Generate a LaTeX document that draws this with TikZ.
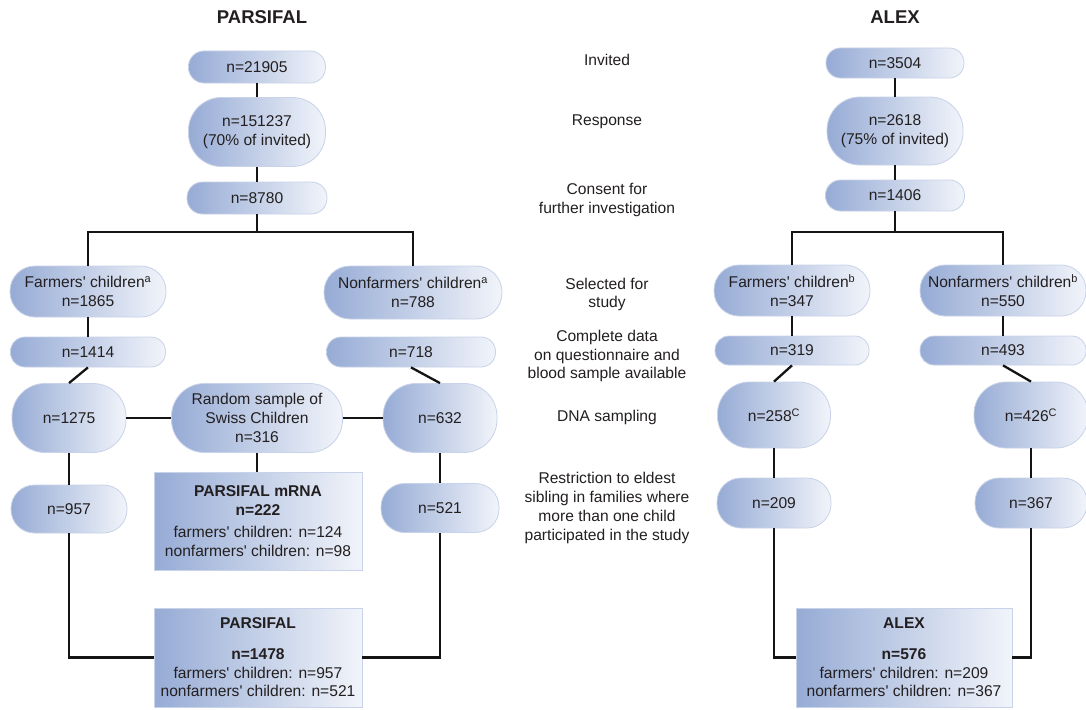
\documentclass[tikz,border=0pt]{standalone}
\usepackage{fontspec}
\setmainfont{Liberation Sans}
\newfontfamily\lib{Liberation Sans}
\definecolor{gl}{RGB}{150,171,213}
\definecolor{gr}{RGB}{241,244,250}
\definecolor{bd}{RGB}{200,210,232}
\definecolor{tx}{RGB}{35,31,32}
\begin{document}
\begin{tikzpicture}[x=1pt,y=-1pt,
 every node/.style={text=tx, font=\lib\fontsize{15.6}{18.7}\selectfont, align=center, inner sep=0pt},
 pill/.style={rectangle, rounded corners=#1, draw=bd, line width=0.8pt, left color=gl, right color=gr},
 boxr/.style={rectangle, draw=bd, line width=0.8pt, left color=gl, right color=gr},
 ttl/.style={font=\lib\fontsize{18.5}{22}\selectfont\bfseries},
 conn/.style={line width=2.3pt, draw=black!92}
]
\useasboundingbox (0,0) rectangle (1086,709);
\fill[white] (0,0) rectangle (1086,709);

% titles
\node[ttl] (t1) at (262,17) {PARSIFAL};
\node[ttl] (t2) at (895,17) {ALEX};

% PARSIFAL column
\node[pill=15.5, minimum width=137pt, minimum height=32pt] (p1) at (257,67) {n=21905};
\node[pill=33, minimum width=137pt, minimum height=69pt] (p2) at (257,132) {n=151237\\(70\% of invited)};
\node[pill=15.5, minimum width=140pt, minimum height=32pt] (p3) at (257,198) {n=8780};
\node[pill=25, minimum width=156pt, minimum height=51pt] (pf) at (88,291.5) {Farmers' children\textsuperscript{a}\\n=1865};
\node[pill=26, minimum width=178pt, minimum height=53pt] (pn) at (413,292.5) {Nonfarmers' children\textsuperscript{a}\\n=788};
\node[pill=14.5, minimum width=155pt, minimum height=30pt] (p1414) at (88,352) {n=1414};
\node[pill=14.5, minimum width=169pt, minimum height=30pt] (p718) at (411,352) {n=718};
\node[pill=33, minimum width=114pt, minimum height=69pt] (p1275) at (69,418) {n=1275};
\node[pill=33, minimum width=171pt, minimum height=69pt] (prs) at (257,418) {Random sample of\\Swiss Children\\n=316};
\node[pill=33, minimum width=114pt, minimum height=69pt] (p632) at (440,418) {n=632};
\node[pill=23.5, minimum width=116pt, minimum height=48pt] (p957) at (69,509) {n=957};
\node[pill=23.5, minimum width=118pt, minimum height=49pt] (p521) at (440,508) {n=521};
\node[boxr, minimum width=208pt, minimum height=98pt] (pm) at (258,521)
  {\textbf{PARSIFAL mRNA}\\\textbf{n=222}\\[4pt]farmers' children: n=124\\nonfarmers' children: n=98};
\node[boxr, minimum width=208pt, minimum height=99pt] (pp) at (258,657.5)
  {\textbf{PARSIFAL}\\[12pt]\textbf{n=1478}\\farmers' children: n=957\\nonfarmers' children: n=521};

% ALEX column
\node[pill=14.5, minimum width=138pt, minimum height=30pt] (a1) at (895,63) {n=3504};
\node[pill=33, minimum width=136pt, minimum height=68pt] (a2) at (895,131) {n=2618\\(75\% of invited)};
\node[pill=15, minimum width=139pt, minimum height=31pt] (a3) at (895,195.5) {n=1406};
\node[pill=25, minimum width=156pt, minimum height=51pt] (af) at (792,290.5) {Farmers' children\textsuperscript{b}\\n=347};
\node[pill=25, minimum width=166pt, minimum height=51pt] (an) at (1003,290.5) {Nonfarmers' children\textsuperscript{b}\\n=550};
\node[pill=14, minimum width=154pt, minimum height=29pt] (a319) at (792,350.5) {n=319};
\node[pill=14, minimum width=166pt, minimum height=29pt] (a493) at (1003,350.5) {n=493};
\node[pill=32, minimum width=113pt, minimum height=66pt] (a258) at (774,415) {n=258\textsuperscript{C}};
\node[pill=32, minimum width=114pt, minimum height=66pt] (a426) at (1031,415) {n=426\textsuperscript{C}};
\node[pill=24, minimum width=114pt, minimum height=50pt] (a209) at (774,503) {n=209};
\node[pill=24, minimum width=112pt, minimum height=50pt] (a367) at (1031,503) {n=367};
\node[boxr, minimum width=216pt, minimum height=99pt] (aa) at (904,657.5)
  {\textbf{ALEX}\\[12pt]\textbf{n=576}\\farmers' children: n=209\\nonfarmers' children: n=367};

% middle labels
\node (l1) at (607,60) {Invited};
\node (l2) at (607,122) {Response};
\node (l3) at (607,200) {Consent for\\further investigation};
\node (l4) at (607,294.5) {Selected for\\study};
\node (l5) at (607,356) {Complete data\\on questionnaire and\\blood sample available};
\node (l6) at (607,417) {DNA sampling};
\node (l7) at (607,508) {Restriction to eldest\\sibling in families where\\more than one child\\participated in the study};

% PARSIFAL connectors
\coordinate (ps) at (257,232);
\draw[conn] (p1) -- (p2);
\draw[conn] (p2) -- (p3);
\draw[conn] (p3) -- (ps);
\draw[conn] (pf.north) |- (ps) -| (pn.north);
\draw[conn] (pf) -- (p1414);
\draw[conn] (p1414.south) -- (p1275.north);
\draw[conn] (p718.south) -- (p632.north);
\draw[conn] (p1275) -- (prs);
\draw[conn] (prs) -- (p632);
\draw[conn] (prs.south) -- (prs.south |- pm.north);
\draw[conn] (p1275) -- (p957);
\draw[conn] (p632) -- (p521);
\draw[conn] (p957.south) |- (pp.west);
\draw[conn] (p521.south) |- (pp.east);

% ALEX connectors
\coordinate (as) at (895,232);
\draw[conn] (a1) -- (a2);
\draw[conn] (a2) -- (a3);
\draw[conn] (a3) -- (as);
\draw[conn] (af.north) |- (as) -| (an.north);
\draw[conn] (af) -- (a319);
\draw[conn] (an) -- (a493);
\draw[conn] (a319.south) -- (a258.north);
\draw[conn] (a493.south) -- (a426.north);
\draw[conn] (a258) -- (a209);
\draw[conn] (a426) -- (a367);
\draw[conn] (a209.south) |- (aa.west);
\draw[conn] (a367.south) |- (aa.east);
\end{tikzpicture}
\end{document}
